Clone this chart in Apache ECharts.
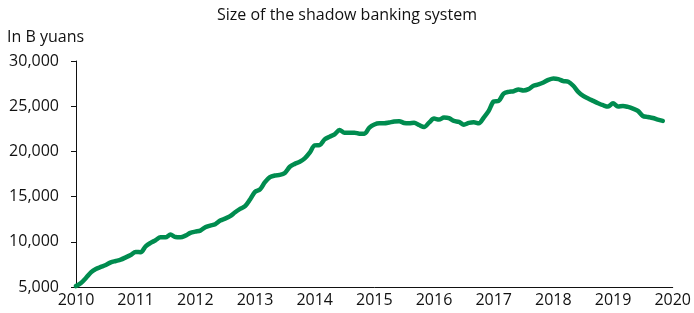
<!DOCTYPE html>
<html>
<head>
<meta charset="utf-8">
<script src="https://cdn.jsdelivr.net/npm/echarts@6/dist/echarts.min.js"></script>
<style>
  html, body { margin: 0; padding: 0; background: #fff; }
  #chart { width: 694px; height: 313px; }
</style>
</head>
<body>
<div id="chart"></div>
<script>
// monthly values, Jan 2010 .. Nov 2019 (B yuans)
var startYear = 2010;
var values2010 = [5100, 5440, 6000, 6620, 7000, 7220, 7440, 7730, 7880, 8030, 8280, 8550];
var values2011 = [8880, 8850, 9500, 9880, 10170, 10500, 10500, 10800, 10530, 10500, 10680, 10990];
var values2012 = [11130, 11240, 11610, 11800, 11950, 12350, 12570, 12830, 13270, 13640, 13940, 14680];
var values2013 = [15530, 15790, 16600, 17150, 17340, 17400, 17620, 18300, 18620, 18860, 19230, 19860];
var values2014 = [20670, 20700, 21330, 21620, 21880, 22370, 22070, 22070, 22070, 21960, 21960, 22630];
var values2015 = [22980, 23110, 23110, 23200, 23300, 23340, 23150, 23110, 23180, 22920, 22700, 23180];
var values2016 = [23630, 23520, 23740, 23670, 23370, 23260, 22960, 23150, 23220, 23110, 23740, 24480];
var values2017 = [25520, 25590, 26400, 26590, 26660, 26850, 26740, 26890, 27260, 27410, 27630, 27920];
var values2018 = [28070, 28000, 27780, 27700, 27260, 26590, 26140, 25850, 25590, 25330, 25110, 24960];
var values2019 = [25330, 24960, 25030, 24920, 24740, 24480, 23920, 23810, 23700, 23520, 23370];

var yearTicks = [2010, 2020];   // x axis range
var yTicks = [5000, 30000, 5000]; // min, max, step

var allValues = [].concat(values2010, values2011, values2012, values2013, values2014,
  values2015, values2016, values2017, values2018, values2019);
var seriesData = allValues.map(function (v, i) {
  return [startYear + i / 12, v];
});

var font = '"Open Sans", "Noto Sans", sans-serif';
var ink = '#111';
var chart = echarts.init(document.getElementById('chart'));
chart.setOption({
  animation: false,
  title: {
    text: 'Size of the shadow banking system',
    left: 'center',
    top: 2,
    textStyle: { color: ink, fontSize: 16, fontWeight: 'normal', fontFamily: font }
  },
  graphic: [{
    type: 'text',
    left: 7,
    top: 29,
    style: { text: 'In B yuans', fill: ink, font: '16px ' + font }
  }],
  grid: { left: 76, right: 17, top: 61, bottom: 26 },
  xAxis: {
    type: 'value',
    min: yearTicks[0],
    max: yearTicks[1],
    interval: 1,
    axisLine: { lineStyle: { color: ink, width: 1 } },
    axisTick: { show: false },
    splitLine: { show: false },
    axisLabel: {
      color: ink, fontSize: 16, fontFamily: font, margin: 5,
      formatter: function (v) { return String(v); }
    }
  },
  yAxis: {
    type: 'value',
    min: yTicks[0],
    max: yTicks[1],
    interval: yTicks[2],
    axisLine: { show: true, lineStyle: { color: ink, width: 1 } },
    axisTick: { show: true, length: 5, lineStyle: { color: ink } },
    splitLine: { show: false },
    axisLabel: { color: ink, fontSize: 16, fontFamily: font, margin: 17 }
  },
  series: [{
    type: 'line',
    data: seriesData,
    showSymbol: false,
    smooth: 0.3,
    lineStyle: { color: '#008c4f', width: 4.5, cap: 'round', join: 'round' },
    itemStyle: { color: '#008c4f' }
  }]
});
</script>
</body>
</html>
